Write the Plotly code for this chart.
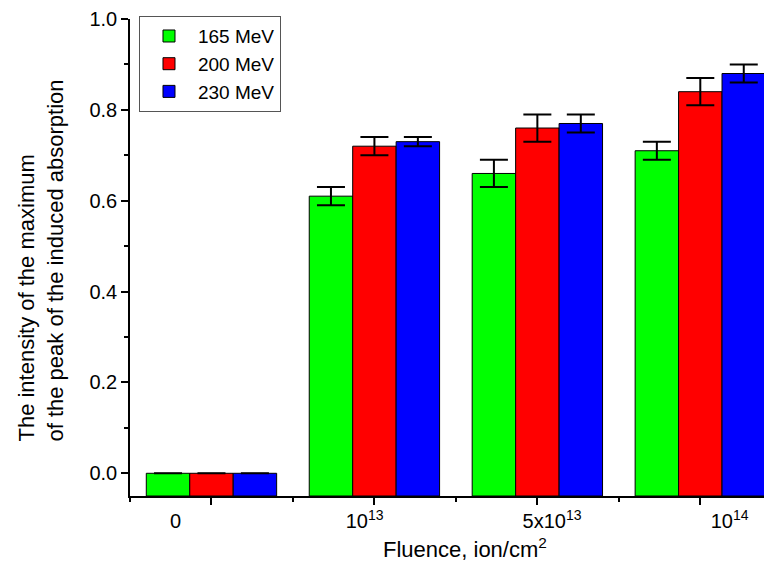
import plotly.graph_objects as go

categories = ["0", "10<sup>13</sup>", "5x10<sup>13</sup>", "10<sup>14</sup>"]
series_names = ["165 MeV", "200 MeV", "230 MeV"]
values_165 = [0.0, 0.61, 0.66, 0.71]
errors_165 = [0.0, 0.02, 0.03, 0.02]
values_200 = [0.0, 0.72, 0.76, 0.84]
errors_200 = [0.0, 0.02, 0.03, 0.03]
values_230 = [0.0, 0.73, 0.77, 0.88]
errors_230 = [0.0, 0.01, 0.02, 0.02]
colors = ["#00FF00", "#FF0000", "#0000FF"]

y_bottom = -0.05
label_shift = [-0.22, -0.06, 0.09, 0.18]

x_idx = list(range(len(categories)))
fig = go.Figure()
for name, vals, errs, col in zip(series_names,
                                 [values_165, values_200, values_230],
                                 [errors_165, errors_200, errors_230],
                                 colors):
    fig.add_trace(go.Bar(
        x=x_idx,
        y=[v - y_bottom for v in vals],
        base=y_bottom,
        name=name,
        marker=dict(color=col, line=dict(color="black", width=1)),
        error_y=dict(type="data", array=[e if e > 0 else None for e in errs],
                     color="black", thickness=2, width=14, visible=True),
    ))

font = dict(family="Liberation Sans, Arial, sans-serif", color="black")
fig.update_layout(
    width=772, height=566,
    margin=dict(l=122, r=8, t=8, b=78),
    plot_bgcolor="white", paper_bgcolor="white",
    barmode="group", bargap=0.2, bargroupgap=0,
    font=dict(size=20, **font),
    showlegend=True,
    legend=dict(x=0.014, y=1.006, xanchor="left", yanchor="top",
                bordercolor="#555555", borderwidth=1, bgcolor="white",
                font=dict(size=19, **font), tracegroupgap=0,
                itemwidth=48),
    xaxis=dict(range=[-0.5, 3.44], tickmode="array", tickvals=x_idx,
               showticklabels=False, ticks="outside", ticklen=7, tickwidth=1.5,
               tickcolor="black", showline=True, linecolor="black", linewidth=1.5,
               showgrid=False, zeroline=False, automargin=False,
               minor=dict(tickvals=[i - 0.5 for i in x_idx], ticks="outside",
                          ticklen=4, tickwidth=1.5, tickcolor="black")),
    xaxis2=dict(range=[-0.5, 3.44], overlaying="x", anchor="y", side="bottom",
                tickmode="array",
                tickvals=[i + s for i, s in zip(x_idx, label_shift)],
                ticktext=categories, ticks="outside", ticklen=7,
                tickcolor="rgba(0,0,0,0)", showline=False, showgrid=False,
                zeroline=False, automargin=False, tickfont=dict(size=20, **font)),
    yaxis=dict(range=[y_bottom, 1.0], tickmode="linear", tick0=0, dtick=0.2,
               tickformat=".1f", ticks="outside", ticklen=7, tickwidth=1.5,
               tickcolor="black", showline=True, linecolor="black", linewidth=1.5,
               showgrid=False, zeroline=False, automargin=False,
               tickfont=dict(size=20, **font),
               minor=dict(dtick=0.1, tick0=0, ticks="outside", ticklen=4,
                          tickwidth=1.5, tickcolor="black")),
    annotations=[
        dict(text="The intensity of the maximum<br>of the peak of the induced absorption",
             xref="paper", yref="paper", x=-0.1386, y=0.110,
             xanchor="center", yanchor="bottom", textangle=-90, align="left",
             showarrow=False, font=dict(size=22, **font)),
        dict(text="Fluence, ion/cm<sup>2</sup>",
             xref="paper", yref="paper", x=0.522, y=-0.11,
             xanchor="center", yanchor="middle", showarrow=False,
             font=dict(size=22, **font)),
    ],
)
# empty trace that activates the label axis
fig.add_trace(go.Scatter(x=[None], y=[None], xaxis="x2", showlegend=False,
                         hoverinfo="skip"))
fig.write_html("out.html")
